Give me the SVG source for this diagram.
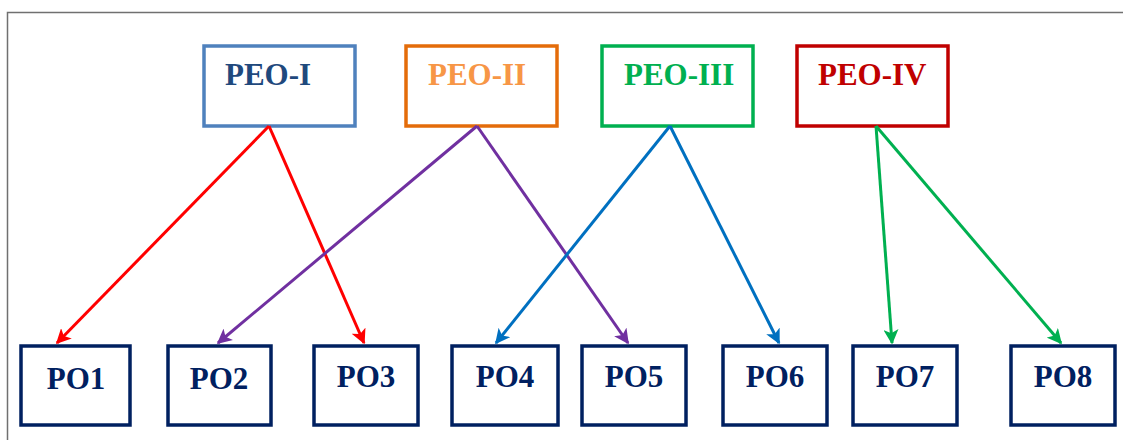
<svg xmlns="http://www.w3.org/2000/svg" width="1123" height="440" viewBox="0 0 1123 440">
<style>
.t{font-family:"Liberation Serif","Times New Roman",serif;font-weight:bold;font-size:31px}
.po rect{fill:#fff;stroke:#002060;stroke-width:3.5}
.po text{fill:#002060;text-anchor:middle}
.peo rect{fill:#fff;stroke-width:3.5}
.c line{stroke-width:3}
</style>
<defs>
<marker id="ar" viewBox="0 0 10 10" refX="9" refY="5" markerWidth="5" markerHeight="5" orient="auto" markerUnits="strokeWidth"><path d="M0,0 L10,5 L0,10 L2.5,5 Z" fill="#FF0000"/></marker>
<marker id="ap" viewBox="0 0 10 10" refX="9" refY="5" markerWidth="5" markerHeight="5" orient="auto" markerUnits="strokeWidth"><path d="M0,0 L10,5 L0,10 L2.5,5 Z" fill="#7030A0"/></marker>
<marker id="ab" viewBox="0 0 10 10" refX="9" refY="5" markerWidth="5" markerHeight="5" orient="auto" markerUnits="strokeWidth"><path d="M0,0 L10,5 L0,10 L2.5,5 Z" fill="#0070C0"/></marker>
<marker id="ag" viewBox="0 0 10 10" refX="9" refY="5" markerWidth="5" markerHeight="5" orient="auto" markerUnits="strokeWidth"><path d="M0,0 L10,5 L0,10 L2.5,5 Z" fill="#00B050"/></marker>
</defs>
<rect width="1123" height="440" fill="#fff"/>
<path d="M7.5,440 V12.5 H1123" fill="none" stroke="#707070" stroke-width="1.5"/>

<g id="peo1" class="peo"><rect x="204" y="46" width="151" height="80" stroke="#4F81BD"/><text class="t" x="225" y="85" fill="#1F497D">PEO-I</text></g>
<g id="peo2" class="peo"><rect x="406" y="46" width="151" height="80" stroke="#E46C0A"/><text class="t" x="428" y="85" fill="#F79646">PEO-II</text></g>
<g id="peo3" class="peo"><rect x="602" y="46" width="151" height="80" stroke="#00B050"/><text class="t" x="624" y="85" fill="#00B050">PEO-III</text></g>
<g id="peo4" class="peo"><rect x="797" y="46" width="151" height="80" stroke="#C00000"/><text class="t" x="818" y="85" fill="#C00000">PEO-IV</text></g>

<g id="po1" class="po"><rect x="21" y="346" width="109" height="79"/><text class="t" x="76" y="389">PO1</text></g>
<g id="po2" class="po"><rect x="168" y="346" width="103" height="79"/><text class="t" x="219" y="389">PO2</text></g>
<g id="po3" class="po"><rect x="314" y="346" width="104" height="79"/><text class="t" x="366" y="387">PO3</text></g>
<g id="po4" class="po"><rect x="452" y="346" width="106" height="79"/><text class="t" x="505" y="387">PO4</text></g>
<g id="po5" class="po"><rect x="582" y="346" width="104" height="79"/><text class="t" x="634" y="387">PO5</text></g>
<g id="po6" class="po"><rect x="723" y="346" width="104" height="79"/><text class="t" x="775" y="387">PO6</text></g>
<g id="po7" class="po"><rect x="853" y="346" width="104" height="79"/><text class="t" x="905" y="387">PO7</text></g>
<g id="po8" class="po"><rect x="1011" y="346" width="104" height="79"/><text class="t" x="1063" y="387">PO8</text></g>

<g id="connectors" class="c">
<line x1="269" y1="126" x2="57" y2="343" stroke="#FF0000" marker-end="url(#ar)"/>
<line x1="269" y1="126" x2="364" y2="343" stroke="#FF0000" marker-end="url(#ar)"/>
<line x1="477" y1="126" x2="218" y2="343" stroke="#7030A0" marker-end="url(#ap)"/>
<line x1="477" y1="126" x2="628" y2="343" stroke="#7030A0" marker-end="url(#ap)"/>
<line x1="670" y1="126" x2="496" y2="343" stroke="#0070C0" marker-end="url(#ab)"/>
<line x1="670" y1="126" x2="779" y2="343" stroke="#0070C0" marker-end="url(#ab)"/>
<line x1="876" y1="126" x2="892" y2="343" stroke="#00B050" marker-end="url(#ag)"/>
<line x1="876" y1="126" x2="1061" y2="343" stroke="#00B050" marker-end="url(#ag)"/>
</g>
</svg>
